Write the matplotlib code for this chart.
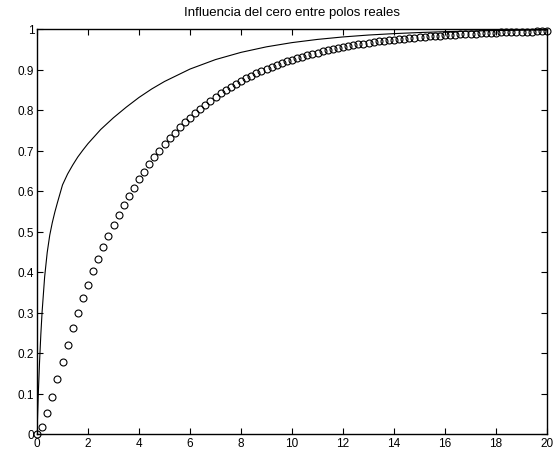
import matplotlib
matplotlib.use("Agg")
import matplotlib.pyplot as plt

plt.rcParams['font.family'] = ['Liberation Sans', 'DejaVu Sans']

title = "Influencia del cero entre polos reales"

# circles: step response sampled every 0.2 s from 0 to 20
t_circles = [round(0.2 * k, 1) for k in range(101)]
y_circles = [
    0.0, 0.0163, 0.0510, 0.0925, 0.1360, 0.1790, 0.2207, 0.2606, 0.2986, 0.3347,
    0.3690, 0.4016, 0.4325, 0.4618, 0.4896, 0.5159, 0.5409, 0.5646, 0.5871, 0.6084,
    0.6286, 0.6478, 0.6660, 0.6832, 0.6996, 0.7151, 0.7298, 0.7437, 0.7569, 0.7695,
    0.7814, 0.7927, 0.8034, 0.8135, 0.8232, 0.8323, 0.8409, 0.8491, 0.8569, 0.8643,
    0.8713, 0.8780, 0.8843, 0.8902, 0.8959, 0.9013, 0.9064, 0.9112, 0.9158, 0.9201,
    0.9243, 0.9282, 0.9319, 0.9354, 0.9387, 0.9419, 0.9449, 0.9477, 0.9504, 0.9530,
    0.9554, 0.9577, 0.9599, 0.9620, 0.9639, 0.9658, 0.9676, 0.9692, 0.9708, 0.9723,
    0.9738, 0.9751, 0.9764, 0.9776, 0.9788, 0.9799, 0.9809, 0.9819, 0.9828, 0.9837,
    0.9846, 0.9853, 0.9861, 0.9868, 0.9875, 0.9881, 0.9888, 0.9893, 0.9899, 0.9904,
    0.9909, 0.9914, 0.9918, 0.9922, 0.9926, 0.9930, 0.9934, 0.9937, 0.9941, 0.9944,
    0.9947,
]

# solid line: response with the zero between the real poles
t_line = [0, 0.05, 0.1, 0.15, 0.2, 0.3, 0.4, 0.5, 0.6, 0.7, 0.8, 1.0, 1.2, 1.4,
          1.6, 1.8, 2.0, 2.5, 3, 3.5, 4, 4.5, 5, 6, 7, 8, 9, 10, 11, 12, 13, 14,
          15, 16, 17, 18, 19, 20]
y_line = [0.0, 0.0973, 0.1782, 0.2454, 0.3016, 0.3883, 0.4480, 0.4910, 0.5220,
          0.5480, 0.5710, 0.6150, 0.6420, 0.6640, 0.6840, 0.7010, 0.7170, 0.7520,
          0.7810, 0.8070, 0.8310, 0.8520, 0.8704, 0.9011, 0.9245, 0.9423, 0.9560,
          0.9664, 0.9743, 0.9804, 0.9851, 0.9886, 0.9913, 0.9934, 0.9949, 0.9961,
          0.9970, 0.9977]

x_ticks = list(range(0, 21, 2))
y_ticks = [0, 0.1, 0.2, 0.3, 0.4, 0.5, 0.6, 0.7, 0.8, 0.9, 1]
y_tick_labels = ["0", "0.1", "0.2", "0.3", "0.4", "0.5", "0.6", "0.7", "0.8", "0.9", "1"]

fig = plt.figure(figsize=(5.53, 4.52), dpi=100)
ax = fig.add_axes([37 / 553, 1 - 435 / 452, (547 - 37) / 553, (435 - 30) / 452])

ax.plot(t_line, y_line, color='black', linewidth=0.8)
ax.plot(t_circles, y_circles, linestyle='none', marker='o', markersize=5,
        markerfacecolor='none', markeredgecolor='black', markeredgewidth=0.8,
        clip_on=False)

ax.set_xlim(0, 20)
ax.set_ylim(0, 1)
ax.set_xticks(x_ticks)
ax.set_xticklabels([str(v) for v in x_ticks])
ax.set_yticks(y_ticks)
ax.set_yticklabels(y_tick_labels)
ax.tick_params(direction='in', top=True, right=True, length=4, width=0.8,
               labelsize=8.5, pad=2)
for s in ax.spines.values():
    s.set_linewidth(1.0)
ax.set_title(title, fontsize=9.5, pad=10)

fig.savefig("out.png", dpi=100)
